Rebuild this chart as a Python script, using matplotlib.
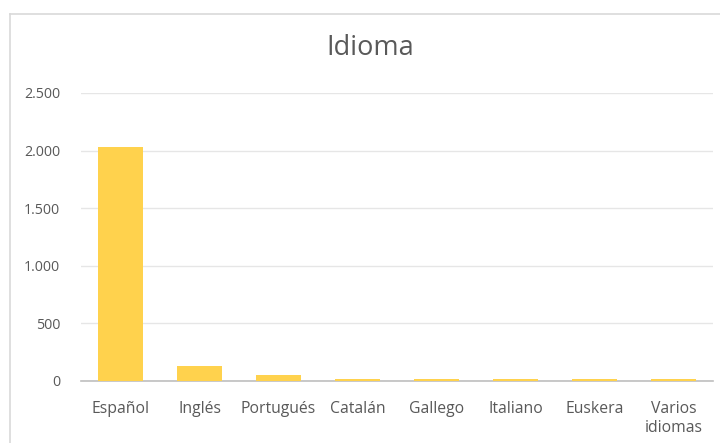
import matplotlib
matplotlib.use("Agg")
import matplotlib.pyplot as plt
from matplotlib.lines import Line2D
from matplotlib.ticker import FuncFormatter

categories = ["Español", "Inglés", "Portugués", "Catalán", "Gallego", "Italiano", "Euskera", "Varios\nidiomas"]
values = [2030, 130, 52, 18, 18, 18, 18, 18]
yticks = [0, 500, 1000, 1500, 2000, 2500]

plt.rcParams['font.family'] = ['Open Sans', 'DejaVu Sans']

fig = plt.figure(figsize=(7.2, 4.43), dpi=100)
ax = fig.add_axes([81/720, 1-381/443, (713-81)/720, (381-93)/443])

x = list(range(len(categories)))
ax.bar(x, values, width=0.56, color="#FFD24D", zorder=3)
ax.set_xlim(-0.5, len(categories)-0.5)
ax.set_ylim(0, 2500)
ax.set_yticks(yticks)
ax.yaxis.set_major_formatter(FuncFormatter(lambda v, p: f"{int(v):,}".replace(",", ".")))
ax.set_xticks(x)
ax.set_xticklabels(categories, linespacing=1.25)
ax.tick_params(axis='both', length=0, colors="#595959")
ax.tick_params(axis='x', pad=14.5, labelsize=11.3)
ax.tick_params(axis='y', pad=15, labelsize=10.3)
ax.grid(axis='y', color="#E6E6E6", linewidth=1, zorder=0)
for s in ["top", "right", "left"]:
    ax.spines[s].set_visible(False)
ax.spines["bottom"].set_color("#BFBFBF")
ax.spines["bottom"].set_linewidth(1.2)
ax.spines["bottom"].set_zorder(2)

fig.text(370/720, 1-48/443, "Idioma", ha="center", va="center", fontsize=19.5, color="#595959")

# chart frame
fig.add_artist(Line2D([10/720, 10/720], [0, 1-14/443], color="#D9D9D9", linewidth=1.2))
fig.add_artist(Line2D([10/720, 1], [1-14/443, 1-14/443], color="#D9D9D9", linewidth=1.2))

fig.savefig("out.png", dpi=100)
